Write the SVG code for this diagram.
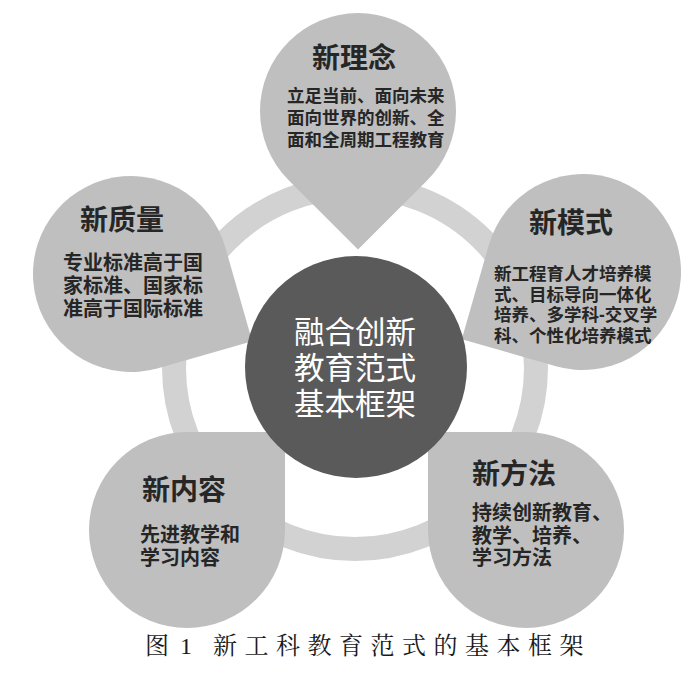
<svg xmlns="http://www.w3.org/2000/svg" xmlns:xlink="http://www.w3.org/1999/xlink" width="700" height="673" viewBox="0 0 700 673">
<style>
  .pin { fill: #bfbfbf; }
  .ring { fill: none; stroke: #d2d2d2; stroke-width: 24; }
  .hub { fill: #5a5a5a; }
  .t { font-family: "Liberation Sans", "Noto Sans CJK SC", sans-serif; fill: #262626; }
  .title { font-size: 28px; font-weight: 700; }
  .body { font-size: 20px; font-weight: 600; }
  .small { font-size: 17.5px; font-weight: 600; }
  .hubtxt { font-family: "Liberation Sans", "Noto Sans CJK SC", sans-serif; font-size: 30.5px; fill: #ffffff; text-anchor: middle; }
  .cap { font-family: "Liberation Serif", "Noto Serif CJK SC", "Noto Sans CJK SC", serif; font-size: 24px; fill: #1a1a1a; }
</style>
<defs>
  <path id="pinshape" d="M 98 0 L 98 98 L 0 98 A 98 98 0 1 1 98 0 Z"/>
</defs>
<rect width="700" height="673" fill="#ffffff"/>
<g id="connectors">
  <circle class="ring" cx="355" cy="368" r="181"/>
</g>
<g id="node-top">
  <use xlink:href="#pinshape" class="pin" transform="translate(358,111) rotate(45)"/>
  <text class="t title" x="354" y="68" text-anchor="middle">新理念</text>
  <text class="t small" x="287" y="102">立足当前、面向未来</text>
  <text class="t small" x="287" y="124">面向世界的创新、全</text>
  <text class="t small" x="287" y="146">面和全周期工程教育</text>
</g>
<g id="node-left">
  <use xlink:href="#pinshape" class="pin" transform="translate(131,274) rotate(-16)"/>
  <text class="t title" x="122" y="230" text-anchor="middle">新质量</text>
  <text class="t body" x="63" y="270">专业标准高于国</text>
  <text class="t body" x="63" y="293">家标准、国家标</text>
  <text class="t body" x="63" y="316">准高于国际标准</text>
</g>
<g id="node-right">
  <use xlink:href="#pinshape" class="pin" transform="translate(583,272) rotate(106)"/>
  <text class="t title" x="571" y="233" text-anchor="middle">新模式</text>
  <text class="t small" x="494" y="280" font-weight="700">新工程育人才培养模</text>
  <text class="t small" x="494" y="300.5" font-weight="700">式、目标导向一体化</text>
  <text class="t small" x="494" y="321" font-weight="700">培养、多学科-交叉学</text>
  <text class="t small" x="494" y="341.5" font-weight="700">科、个性化培养模式</text>
</g>
<g id="node-bottom-left">
  <use xlink:href="#pinshape" class="pin" transform="translate(187,530) rotate(-90)"/>
  <text class="t title" x="184" y="500" text-anchor="middle">新内容</text>
  <text class="t body" x="140" y="542">先进教学和</text>
  <text class="t body" x="140" y="565">学习内容</text>
</g>
<g id="node-bottom-right">
  <use xlink:href="#pinshape" class="pin" transform="translate(526,530) rotate(180)"/>
  <text class="t title" x="472" y="484">新方法</text>
  <text class="t body" x="472" y="520">持续创新教育、</text>
  <text class="t body" x="472" y="543">教学、培养、</text>
  <text class="t body" x="472" y="565">学习方法</text>
</g>
<g id="node-center">
  <circle class="hub" cx="356" cy="367" r="111"/>
  <text class="hubtxt" x="355" y="343">融合创新</text>
  <text class="hubtxt" x="355" y="379">教育范式</text>
  <text class="hubtxt" x="355" y="415">基本框架</text>
</g>
<g id="caption">
  <text class="cap" y="654"><tspan x="145">图</tspan><tspan x="180">1</tspan><tspan x="213" letter-spacing="7.5">新工科教育范式的基本框架</tspan></text>
</g>
</svg>
